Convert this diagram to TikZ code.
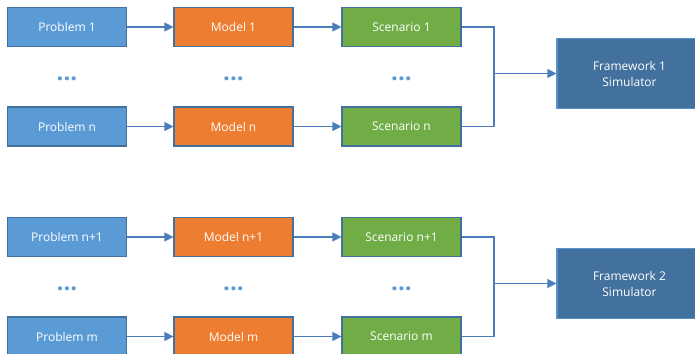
\documentclass[tikz,border=0pt]{standalone}
\usepackage{fontspec}
\setmainfont{Open Sans}
\usepackage{xcolor}
\usetikzlibrary{positioning,calc,arrows.meta}

\definecolor{probblue}{HTML}{5B9BD5}
\definecolor{modelorange}{HTML}{ED7D31}
\definecolor{scengreen}{HTML}{70AD47}
\definecolor{frameblue}{HTML}{41719C}
\definecolor{edgeblue}{HTML}{41719C}
\definecolor{lineblue}{HTML}{4A7EBB}

\tikzset{
    box/.style={draw=edgeblue,line width=1.2bp,rectangle,minimum width=119bp,minimum height=39bp,
        text=white,font=\fontsize{12bp}{16bp}\selectfont,inner sep=0pt},
    probbox/.style={box,fill=probblue},
    modelbox/.style={box,fill=modelorange},
    scenbox/.style={box,fill=scengreen},
    framebox/.style={box,fill=frameblue,draw=probblue!80!frameblue,minimum width=145bp,minimum height=70bp,
        align=center},
    dots/.style={text=probblue,font=\fontsize{24bp}{26bp}\selectfont\bfseries,inner sep=0pt},
    flow/.style={draw=lineblue,line width=1.2bp,-{Triangle[length=9bp,width=9bp]}},
    merge/.style={draw=lineblue,line width=1.2bp}
}

\begin{document}
\begin{tikzpicture}[x=1bp,y=-1bp]
    \useasboundingbox (0,0) rectangle (695,353);

    % first group
    \node[probbox] (prob1) at (67,27) {Problem 1};
    \node[modelbox] (model1) at (233.5,27) {Model 1};
    \node[scenbox] (scen1) at (401.5,27) {Scenario 1};

    \node[dots] (dotp1) at (67,79) {...};
    \node[dots] (dotm1) at (233.5,79) {...};
    \node[dots] (dots1) at (401.5,79) {...};

    \node[probbox] (probn) at (67,126.5) {Problem n};
    \node[modelbox] (modeln) at (233.5,126.5) {Model n};
    \node[scenbox] (scenn) at (401.5,126.5) {Scenario n};

    \node[framebox] (frame1) at (629.5,73.5) {Framework 1\\Simulator};

    \draw[flow] (prob1) -- (model1);
    \draw[flow] (model1) -- (scen1);
    \draw[flow] (probn) -- (modeln);
    \draw[flow] (modeln) -- (scenn);

    \coordinate (join1) at (494,73.5);
    \draw[merge] (scen1.east) -| (join1);
    \draw[merge] (scenn.east) -| (join1);
    \draw[flow] (join1) -- (frame1.west);

    % second group
    \node[probbox] (probn1) at (67,237) {Problem n+1};
    \node[modelbox] (modeln1) at (233.5,237) {Model n+1};
    \node[scenbox] (scenn1) at (401.5,237) {Scenario n+1};

    \node[dots] (dotp2) at (67,289) {...};
    \node[dots] (dotm2) at (233.5,289) {...};
    \node[dots] (dots2) at (401.5,289) {...};

    \node[probbox] (probm) at (67,336.5) {Problem m};
    \node[modelbox] (modelm) at (233.5,336.5) {Model m};
    \node[scenbox] (scenm) at (401.5,336.5) {Scenario m};

    \node[framebox] (frame2) at (629.5,283.5) {Framework 2\\Simulator};

    \draw[flow] (probn1) -- (modeln1);
    \draw[flow] (modeln1) -- (scenn1);
    \draw[flow] (probm) -- (modelm);
    \draw[flow] (modelm) -- (scenm);

    \coordinate (join2) at (494,283.5);
    \draw[merge] (scenn1.east) -| (join2);
    \draw[merge] (scenm.east) -| (join2);
    \draw[flow] (join2) -- (frame2.west);
\end{tikzpicture}
\end{document}
